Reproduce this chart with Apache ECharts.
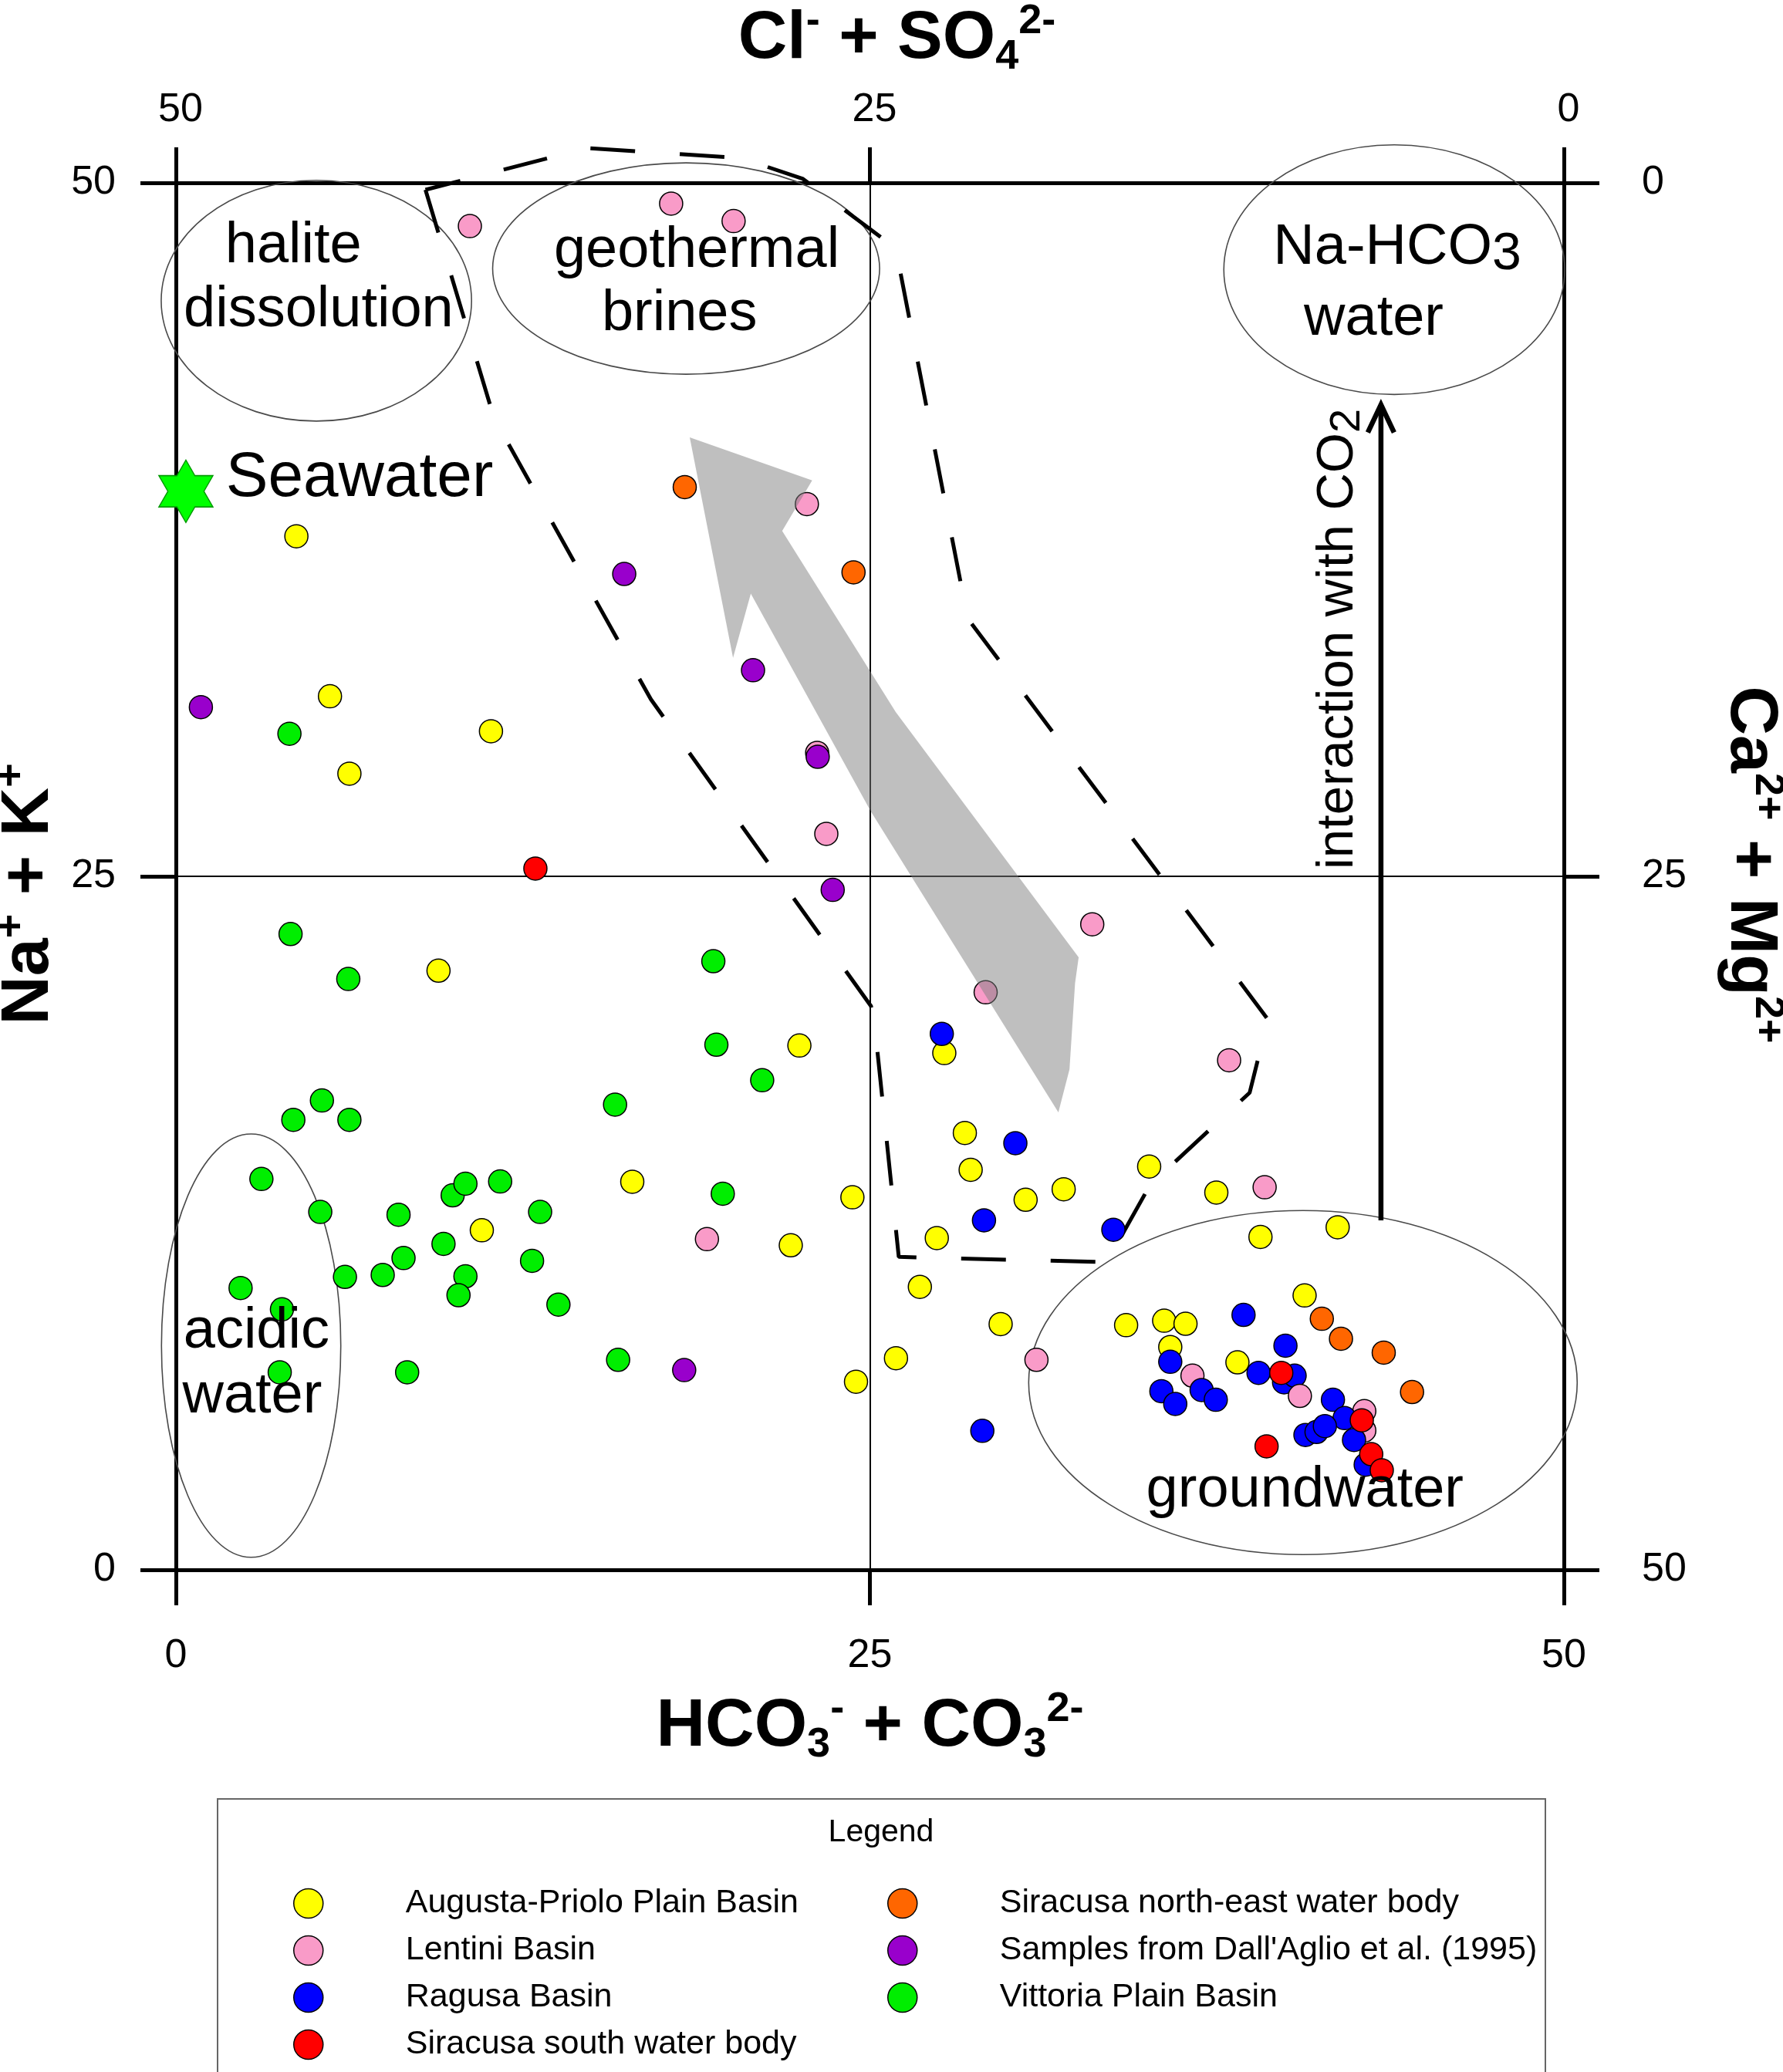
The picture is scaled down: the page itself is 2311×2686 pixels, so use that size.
<!DOCTYPE html>
<html>
<head>
<meta charset="utf-8">
<script src="https://cdn.jsdelivr.net/npm/echarts/dist/echarts.min.js"></script>
<style>
html,body{margin:0;padding:0;background:#ffffff;}
#chart{width:2311px;height:2686px;}
</style>
</head>
<body>
<div id="chart"></div>
<script>
// ---------------- data ----------------
const categories = [
  'Augusta-Priolo Plain Basin',
  'Lentini Basin',
  'Ragusa Basin',
  'Siracusa south water body',
  'Siracusa north-east water body',
  "Samples from Dall'Aglio et al. (1995)",
  'Vittoria Plain Basin'
];
const tickValues = [0, 25, 50];

// [HCO3+CO3 , Na+K]
const augustaPriolo = [[4.34,37.26],[5.55,31.49],[6.25,28.70],[11.35,30.23],[9.46,21.60],[22.46,18.90],[16.44,13.99],[11.02,12.24],[22.15,11.70],[24.37,13.43],[24.50,6.78],[25.94,7.63],[26.80,10.20],[27.41,11.96],[27.68,18.63],[28.42,15.75],[28.63,14.42],[29.71,8.86],[30.61,13.34],[31.98,13.72],[34.23,8.82],[35.06,14.54],[35.60,8.98],[35.82,8.03],[36.37,8.87],[37.48,13.60],[38.24,7.48],[39.07,12.00],[40.66,9.89],[41.85,12.35]];
const lentini = [[10.59,48.44],[17.84,49.25],[20.09,48.62],[22.73,38.42],[23.10,29.45],[23.43,26.53],[33.01,23.27],[29.17,20.82],[37.94,18.37],[39.22,13.79],[19.13,11.92],[31.00,7.57],[36.62,7.00],[42.81,5.72],[42.81,5.02]];
const ragusa = [[27.59,19.32],[30.24,15.38],[29.11,12.60],[33.77,12.26],[29.05,5.01],[38.46,9.19],[35.82,7.50],[35.50,6.44],[36.00,5.98],[36.95,6.48],[37.46,6.13],[39.00,7.10],[39.97,8.08],[39.92,6.76],[40.30,7.00],[41.68,6.13],[42.10,5.47],[40.69,4.86],[41.09,4.97],[41.39,5.18],[42.44,4.68],[42.86,3.79]];
const lentiniTop = [[40.49,6.27]];
const siracusaSouth = [[12.95,25.28],[39.82,7.10],[42.72,5.39],[39.29,4.45],[43.06,4.17],[43.44,3.59]];
const siracusaNE = [[18.33,39.03],[24.41,35.96],[41.28,9.05],[41.97,8.33],[43.51,7.83],[44.53,6.41]];
const dallAglio = [[0.90,31.10],[16.15,35.90],[20.79,32.43],[23.12,29.31],[23.66,24.51],[18.31,7.20]];
const vittoria = [[4.09,30.14],[4.13,22.92],[6.21,21.30],[19.36,21.94],[19.47,18.93],[21.12,17.65],[15.82,16.77],[5.26,16.92],[4.23,16.22],[6.25,16.22],[3.08,14.09],[5.20,12.90],[8.02,12.80],[9.97,13.50],[10.43,13.92],[11.68,14.00],[13.12,12.90],[9.64,11.75],[8.20,11.24],[7.45,10.63],[6.09,10.56],[10.43,10.58],[10.18,9.90],[12.83,11.14],[13.78,9.56],[2.33,10.16],[3.82,9.39],[3.74,7.12],[8.33,7.12],[15.93,7.57],[19.70,13.56]];
const seawater = [[0.36,38.88]];

// annotation geometry in data units
const zoneEllipses = [   // [cx, cy, rx, ry]
  [5.06,45.75,5.59,4.34],
  [18.38,46.91,6.97,3.81],
  [43.89,46.87,6.14,4.50],
  [2.71,8.08,3.23,7.63],
  [40.60,6.75,9.88,6.20]
];
const dashedOutline = [[8.99,49.75],[11.46,41.52],[17.11,31.38],[25.04,20.32],[25.18,19.57],[26.04,11.28],[33.53,11.09],[35.09,13.87],[38.68,17.20],[39.34,19.84],[28.52,34.30],[25.93,47.64],[22.59,50.14],[20.37,50.89],[14.80,51.25],[8.99,49.75]];
const grayArrow = [[18.51,40.82],[22.92,39.27],[21.84,37.45],[25.93,30.92],[32.52,22.08],[32.39,21.14],[32.19,18.04],[31.79,16.49],[25.04,27.33],[20.71,35.19],[20.07,32.88]];
const co2Arrow = [[43.41,12.60,42.00]];
const annotationTexts = [
  ['halite',4.23,47.70],
  ['dissolution',5.14,45.40],
  ['geothermal',18.76,47.54],
  ['brines',18.14,45.26],
  ['Na-HCO3',44.00,47.64],
  ['water',43.15,45.10],
  ['acidic',2.90,8.57],
  ['water',2.75,6.24],
  ['groundwater',40.67,2.86],
  ['Seawater',1.80,39.35],
  ['interaction with CO2',41.88,33.55]
];

// ---------------- styles ----------------
const FONT = "'Liberation Sans', Arial, Helvetica, sans-serif";
const palette = ['#FFFF00','#F99BC8','#0000FF','#FF0000','#FF6600','#9900CC','#00EE00'];
const STAR = 'path://M50,0 L64.43,25 L93.3,25 L78.87,50 L93.3,75 L64.43,75 L50,100 L35.57,75 L6.7,75 L21.13,50 L6.7,25 L35.57,25 Z';

const titleRich = {
  b:   {fontSize: 88, fontWeight: 'bold', fontFamily: FONT, color: '#000', lineHeight: 100},
  sup: {fontSize: 54, fontWeight: 'bold', fontFamily: FONT, color: '#000', lineHeight: 54, verticalAlign: 'top'},
  sub: {fontSize: 54, fontWeight: 'bold', fontFamily: FONT, color: '#000', lineHeight: 54, verticalAlign: 'bottom'}
};

function axisBase(extra) {
  return Object.assign({
    type: 'value', min: 0, max: 50, interval: 25,
    nameLocation: 'middle',
    nameMoveOverlap: false,
    axisLine: {show: true, onZero: false, lineStyle: {color: '#000', width: 5}},
    axisTick: {show: true, inside: false, length: 46, lineStyle: {color: '#000', width: 5}},
    axisLabel: {show: true, color: '#000', fontSize: 52, fontFamily: FONT},
    splitLine: {show: false}
  }, extra);
}

const chart = echarts.init(document.getElementById('chart'), null, {renderer: 'canvas'});

const pointSets = [augustaPriolo, lentini, ragusa, siracusaSouth, siracusaNE, dallAglio, vittoria];
const scatterSeries = categories.map((name, i) => ({
  type: 'scatter', name: name, data: pointSets[i],
  symbol: 'circle', symbolSize: 30, z: 3, silent: true,
  itemStyle: {color: palette[i], borderColor: '#000', borderWidth: 1.5, opacity: 1}
}));
// a Lentini sample plotted above the Ragusa ones
scatterSeries.push({
  type: 'scatter', name: 'Lentini Basin (overlay)', data: lentiniTop,
  symbol: 'circle', symbolSize: 30, z: 3, silent: true,
  itemStyle: {color: palette[1], borderColor: '#000', borderWidth: 1.5, opacity: 1}
});

function renderEllipse(params, api) {
  const c = api.coord([api.value(0), api.value(1)]);
  const s = api.size([api.value(2), api.value(3)]);
  return {type: 'ellipse', shape: {cx: c[0], cy: c[1], rx: s[0], ry: s[1]},
          style: {fill: 'none', stroke: '#4a4a4a', lineWidth: 1.6}};
}
function renderGrayArrow(params, api) {
  const pts = grayArrow.map(v => api.coord(v));
  return {type: 'polygon', shape: {points: pts}, style: {fill: 'rgba(128,128,128,0.5)'}};
}
function renderCO2Arrow(params, api) {
  const x = api.value(0);
  const a = api.coord([x, api.value(1)]);
  const b = api.coord([x, api.value(2)]);
  return {type: 'group', children: [
    {type: 'line', shape: {x1: a[0], y1: a[1], x2: b[0], y2: b[1] + 3}, style: {stroke: '#000', lineWidth: 6.5}},
    {type: 'polyline', shape: {points: [[b[0] - 17, b[1] + 36], [b[0], b[1]], [b[0] + 17, b[1] + 36]]},
     style: {stroke: '#000', lineWidth: 6.5, fill: 'none'}}
  ]};
}
function renderText(params, api) {
  const t = annotationTexts[params.dataIndex];
  const p = api.coord([api.value(0), api.value(1)]);
  const style = {text: t[0], fontSize: 74, fontFamily: FONT, fill: '#000', align: 'center', verticalAlign: 'middle'};
  let rotation = 0;
  if (t[0] === 'Seawater') { style.fontSize = 82; style.align = 'left'; }
  if (t[0] === 'Na-HCO3') {
    style.text = '{m|Na-HCO}{s|3}';
    style.rich = {
      m: {fontSize: 74, fontFamily: FONT, fill: '#000', lineHeight: 84},
      s: {fontSize: 68, fontFamily: FONT, fill: '#000', lineHeight: 72, verticalAlign: 'bottom'}
    };
  }
  if (t[0] === 'interaction with CO2') {
    rotation = Math.PI / 2;
    style.text = '{m|interaction with CO}{s|2}';
    style.rich = {
      m: {fontSize: 67, fontFamily: FONT, fill: '#000', lineHeight: 80},
      s: {fontSize: 56, fontFamily: FONT, fill: '#000', lineHeight: 56, verticalAlign: 'bottom'}
    };
  }
  return {type: 'text', x: p[0], y: p[1], rotation: rotation, style: style};
}

const legendCommon = {
  orient: 'vertical', top: 2446, height: 320, padding: 0,
  itemWidth: 38, itemHeight: 38, itemGap: 18,
  icon: 'circle', selectedMode: false,
  itemStyle: {borderColor: '#000', borderWidth: 1.5},
  textStyle: {fontSize: 43, fontFamily: FONT, color: '#000', lineHeight: 38, padding: [0, 0, 0, 102]}
};

const option = {
  animation: false,
  backgroundColor: '#ffffff',
  grid: {left: 228, top: 237, width: 1799, height: 1798, containLabel: false, outerBoundsMode: 'none'},
  xAxis: [
    axisBase({
      position: 'bottom',
      name: '{b|HCO}{sub|3}{sup|-}{b| + CO}{sub|3}{sup|2-}',
      nameGap: 154,
      nameTextStyle: {rich: titleRich},
      axisLabel: {show: true, color: '#000', fontSize: 52, fontFamily: FONT, margin: 86},
      splitLine: {show: true, lineStyle: {color: '#000', width: 2}}
    }),
    axisBase({
      position: 'top', inverse: true,
      name: '{b|Cl}{sup|-}{b| + SO}{sub|4}{sup|2-}',
      nameGap: 136,
      nameTextStyle: {rich: titleRich, padding: [0, 0, 0, 70]},
      axisLabel: {show: true, color: '#000', fontSize: 52, fontFamily: FONT, margin: 68, padding: [0, 0, 0, 12]}
    })
  ],
  yAxis: [
    axisBase({
      position: 'left',
      name: '{b|Na}{sup|+}{b| + K}{sup|+}',
      nameRotate: 90, nameGap: 140,
      nameTextStyle: {rich: titleRich, padding: [0, 46, 0, 0]},
      axisLabel: {show: true, color: '#000', fontSize: 52, fontFamily: FONT, margin: 78},
      splitLine: {show: true, lineStyle: {color: '#000', width: 2}}
    }),
    axisBase({
      position: 'right', inverse: true,
      name: '{b|Ca}{sup|2+}{b| + Mg}{sup|2+}',
      nameRotate: -90, nameGap: 191,
      nameTextStyle: {rich: titleRich, padding: [0, 30, 0, 0]},
      axisLabel: {show: true, color: '#000', fontSize: 52, fontFamily: FONT, margin: 101, padding: [10, 0, 0, 0]}
    })
  ],
  legend: [
    Object.assign({}, legendCommon, {left: 380, data: categories.slice(0, 4)}),
    Object.assign({}, legendCommon, {left: 1150, data: categories.slice(4)})
  ],
  graphic: [
    {type: 'rect', shape: {x: 282, y: 2332, width: 1721, height: 420},
     style: {fill: 'none', stroke: '#666', lineWidth: 2}, z: -1},
    {type: 'text', x: 1142, y: 2376,
     style: {text: 'Legend', fontSize: 41, fontFamily: FONT, fill: '#000', align: 'center', verticalAlign: 'middle'}}
  ],
  series: [
    {type: 'custom', name: 'zones', data: zoneEllipses, renderItem: renderEllipse, clip: false, z: 1, silent: true},
    {type: 'line', name: 'outline', data: dashedOutline, symbol: 'none', clip: false, z: 2, silent: true,
     lineStyle: {color: '#000', width: 5, type: [58, 58]}},
    ...scatterSeries,
    {type: 'scatter', name: 'Seawater', data: seawater, symbol: STAR, symbolSize: [70, 81], z: 4, silent: true,
     itemStyle: {color: '#00FF00', borderColor: '#009900', borderWidth: 1.5, opacity: 1}},
    {type: 'custom', name: 'trend', data: [grayArrow[0]], renderItem: renderGrayArrow, clip: false, z: 5, silent: true},
    {type: 'custom', name: 'co2', data: co2Arrow, renderItem: renderCO2Arrow, clip: false, z: 5, silent: true},
    {type: 'custom', name: 'labels', data: annotationTexts.map(t => [t[1], t[2]]), renderItem: renderText, clip: false, z: 6, silent: true}
  ]
};
chart.setOption(option);
</script>
</body>
</html>
